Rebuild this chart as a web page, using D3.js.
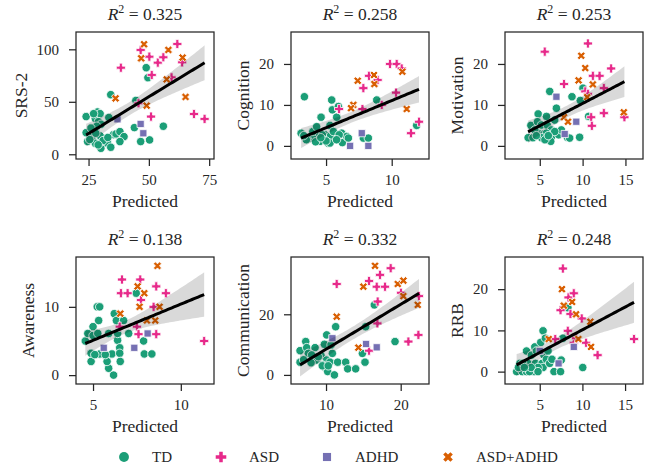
<!DOCTYPE html>
<html>
<head>
<meta charset="utf-8">
<script src="https://cdn.jsdelivr.net/npm/d3@7"></script>
<style>
body { margin: 0; background: #fff; }
text { font-family: "Liberation Serif", "Times New Roman", serif; fill: #262626; }
</style>
</head>
<body>
<div id="chart"></div>
<script>
// group names and colours (Dark2)
const groups = ['TD', 'ASD', 'ADHD', 'ASD+ADHD'];
const groupColors = ['#1b9e77', '#e7298a', '#7570b3', '#d95f02'];

// panel meta
const panelNames = ['SRS-2', 'Cognition', 'Motivation', 'Awareness', 'Communication', 'RRB'];
const r2Labels = ['0.325', '0.258', '0.253', '0.138', '0.332', '0.248'];
const xTicks = [[25, 50, 75], [5, 10], [5, 10, 15], [5, 10], [10, 20], [5, 10, 15]];
const yTicks = [[0, 50, 100], [0, 10, 20], [0, 10, 20], [0, 10], [0, 20], [0, 10, 20]];
const xLimits = [[19.8, 77], [2.33, 12.84], [0.94, 17.05], [4.03, 11.89], [5.31, 23.79], [0.93, 17.1]];
const yLimits = [[-4.5, 116.5], [-3.2, 27.8], [-3.2, 27.8], [-1.3, 17.3], [-3, 38.9], [-3, 27.8]];

// [predicted, observed] per group
const srsTD = [[24.0,35.9],[24.0,20.6],[24.6,12.1],[26.4,16.2],[27.8,34.0],[28.7,40.3],[29.8,38.7],[29.1,31.1],[30.2,28.6],[28.4,26.7],[27.8,10.5],[29.8,17.5],[30.1,5.7],[32.9,10.5],[34.2,6.7],[33.4,35.0],[34.2,56.8],[35.3,18.7],[36.4,19.4],[38.0,21.6],[39.7,16.8],[38.0,12.1],[44.0,25.4],[44.6,51.3],[46.6,12.1],[50.3,13.7],[48.9,82.5],[49.6,73.0],[56.0,26.7],[27.1,38.7],[25.5,14.0],[28.0,20.0],[31.0,13.0],[33.0,16.0],[29.0,9.0],[26.0,25.0]];
const srsASD = [[38.4,82.5],[46.6,99.4],[50.2,93.0],[53.7,87.3],[56.0,92.4],[61.8,105.1],[63.8,87.6],[51.2,75.6],[59.4,73.3],[50.9,35.9],[68.7,38.4],[73.1,33.7],[45.7,48.6]];
const srsADHD = [[37.0,33.3],[46.6,28.9],[47.7,20.0]];
const srsBoth = [[48.0,104.8],[46.8,91.4],[58.1,99.4],[64.0,92.1],[57.4,71.4],[36.2,53.3],[49.1,46.3],[65.2,54.6]];

const cogTD = [[3.10,3.1],[3.35,12.0],[3.78,1.9],[4.16,2.3],[4.47,3.1],[4.62,7.0],[4.54,1.1],[4.92,2.7],[5.13,0.7],[5.30,5.0],[5.43,11.2],[5.48,8.8],[5.30,2.3],[5.56,3.5],[5.81,7.0],[5.94,9.6],[6.19,3.1],[6.24,0.8],[6.57,2.3],[6.70,1.9],[5.30,0.7],[7.84,1.9],[8.22,1.9],[8.86,11.2],[11.90,5.0],[3.99,3.5],[6.0,2.7],[4.72,2.7],[4.28,4.7],[3.5,1.5],[4.2,1.0],[5.0,1.2],[5.8,1.5],[4.6,2.0],[3.3,2.5]];
const cogASD = [[5.99,9.0],[7.84,14.1],[8.27,17.1],[8.93,16.1],[7.77,9.0],[9.24,10.0],[9.87,20.0],[10.38,20.0],[10.76,18.9],[10.33,13.0],[11.47,3.1],[12.08,5.9]];
const cogADHD = [[6.83,0],[7.72,3.1],[8.22,0]];
const cogBoth = [[7.41,15.9],[7.08,10.0],[6.90,9.2],[8.68,15.1],[8.65,17.3],[10.81,18.1],[11.14,9.0]];

const motTD = [[3.64,2.0],[3.95,5.0],[4.81,7.8],[4.81,3.1],[4.73,5.9],[5.19,5.1],[5.50,2.9],[5.78,7.2],[6.16,13.3],[5.89,5.0],[6.36,3.9],[6.36,2.1],[6.28,1.1],[6.74,6.3],[6.94,9.2],[7.21,2.7],[7.52,3.9],[8.22,2.1],[8.49,1.9],[8.76,12.0],[9.65,2.1],[9.73,11.1],[10.04,14.1],[10.70,7.2],[5.78,3.1],[4.42,3.9],[6.74,3.5],[4.2,2.0],[5.2,2.0],[5.6,1.5],[6.0,2.5],[4.6,2.5]];
const motASD = [[5.58,23.0],[7.83,15.1],[10.62,25.0],[10.31,13.3],[11.20,17.1],[11.98,17.1],[13.33,18.9],[12.48,14.1],[11.0,7.0],[11.08,4.9],[12.48,8.0],[14.88,7.0],[10.62,12.7]];
const motADHD = [[6.94,12.0],[9.26,5.9],[7.91,2.9]];
const motBoth = [[9.84,22.0],[10.31,19.0],[9.53,16.0],[11.20,15.0],[7.83,7.0],[8.29,5.9],[10.54,11.9],[14.81,8.2]];

const awaTD = [[4.56,5.0],[4.70,6.1],[4.89,3.2],[4.89,2.0],[5.0,5.8],[5.0,7.1],[5.27,6.1],[5.32,8.0],[5.24,10.0],[5.38,10.0],[5.57,3.1],[5.89,6.1],[6.08,3.1],[5.89,1.0],[6.17,0],[6.21,9.0],[6.33,8.0],[6.40,5.1],[6.52,4.0],[6.52,3.2],[6.74,8.0],[7.03,6.1],[6.55,2.0],[6.40,6.1],[7.46,12.0],[7.88,5.0],[7.92,3.1],[8.35,3.1],[5.38,3.1],[5.80,2.0],[5.1,3.0],[5.7,3.0]];
const awaASD = [[6.65,14.0],[6.59,12.0],[6.97,12.0],[7.69,14.0],[7.73,11.0],[6.52,7.1],[7.5,7.1],[7.59,6.0],[8.45,10.0],[8.60,13.0],[8.60,6.0],[9.15,12.0],[11.33,5.0]];
const awaADHD = [[5.61,4.0],[7.35,4.0],[8.11,6.1]];
const awaBoth = [[8.67,16.0],[7.54,13.0],[7.92,12.0],[7.65,10.0],[6.55,9.0],[8.54,8.0],[8.07,8.0],[8.79,10.0]];

const comTD = [[6.52,8.0],[6.52,4.2],[7.28,11.0],[7.41,9.0],[7.63,7.1],[8.53,9.0],[8.75,4.9],[9.33,6.4],[9.78,10.1],[10.09,13.2],[10.09,4.9],[9.51,3.3],[9.85,2.4],[10.22,1.1],[11.12,0],[10.54,4.2],[10.85,7.1],[11.29,15.9],[11.56,4.2],[12.63,4.2],[12.90,2.0],[13.97,2.0],[14.87,7.1],[15.22,4.2],[15.31,15.9],[16.47,23.1],[19.24,11.0],[8.97,6.0],[8.08,6.6],[10.67,9.9],[7.0,5.0],[8.0,4.0],[9.5,3.0],[10.3,3.0]];
const comASD = [[11.43,30.0],[15.76,31.0],[17.23,33.0],[18.66,35.2],[16.79,29.1],[17.90,29.1],[16.92,24.2],[16.88,17.0],[20.04,27.1],[22.45,26.0],[15.76,8.0],[21.03,11.0],[22.37,13.2]];
const comADHD = [[10.85,12.1],[15.36,10.2],[16.79,9.1]];
const comBoth = [[16.56,36.0],[15.0,29.1],[19.60,30.0],[20.36,31.1],[22.28,23.1],[11.43,19.2],[14.33,9.0],[20.36,26.0]];

const rrbTD = [[2.29,0],[2.67,2.0],[2.95,0],[3.45,0],[3.45,5.0],[3.64,2.0],[4.34,0],[4.42,6.0],[4.50,2.0],[5.12,7.1],[5.27,2.0],[5.39,9.9],[5.39,1.0],[5.50,4.0],[5.66,8.1],[5.78,3.0],[5.97,5.0],[6.16,2.0],[6.43,3.0],[6.67,0],[7.44,0],[7.52,2.8],[7.71,8.1],[10.04,1.0],[4.03,4.0],[4.81,1.0],[4.61,5.0],[2.5,1.0],[3.0,2.0],[3.8,0],[4.0,1.0],[4.8,0],[3.2,1.0],[8.3,15.5]];
const rrbASD = [[7.71,25.0],[8.37,18.0],[8.99,19.0],[7.44,14.9],[8.60,14.0],[9.92,12.9],[8.29,9.9],[6.82,7.9],[8.99,7.0],[10.43,7.0],[11.78,4.0],[16.05,7.9],[9.26,8.1]];
const rrbADHD = [[5.0,5.0],[7.21,2.0],[8.99,6.0]];
const rrbBoth = [[7.60,20.0],[7.83,16.0],[8.80,16.9],[9.26,13.9],[6.05,7.9],[9.53,7.9],[10.93,12.1],[11.01,6.0]];

const panelData = [
    [srsTD, srsASD, srsADHD, srsBoth],
    [cogTD, cogASD, cogADHD, cogBoth],
    [motTD, motASD, motADHD, motBoth],
    [awaTD, awaASD, awaADHD, awaBoth],
    [comTD, comASD, comADHD, comBoth],
    [rrbTD, rrbASD, rrbADHD, rrbBoth]
];

const width = 654, height = 473;
const colLeft = [76, 291, 505];
const rowTop = [32, 257];
const boxW = 138, boxH = 127;

// marker shapes per group: circle, plus, square, x
const symbolTypes = [d3.symbolCircle, d3.symbolCross, d3.symbolSquare, d3.symbolCross];
const symbolRot = [0, 0, 0, 45];
const plotSizes = [56, 46, 52, 42];
const legendSizes = [76, 62, 66, 58];

const svg = d3.select('#chart').append('svg')
    .attr('width', width)
    .attr('height', height);

function linearFit(points) {
    let n = points.length;
    let mx = d3.mean(points, p => p[0]);
    let my = d3.mean(points, p => p[1]);
    let sxx = d3.sum(points, p => (p[0] - mx) ** 2);
    let sxy = d3.sum(points, p => (p[0] - mx) * (p[1] - my));
    let slope = sxy / sxx;
    let intercept = my - slope * mx;
    let sse = d3.sum(points, p => (p[1] - intercept - slope * p[0]) ** 2);
    let s = Math.sqrt(sse / (n - 2));
    return {n, mx, sxx, slope, intercept, s};
}

panelData.forEach((groupData, i) => {
    let left = colLeft[i % 3], top = rowTop[Math.floor(i / 3)];
    let g = svg.append('g').attr('transform', 'translate(' + left + ',' + top + ')');

    let xScale = d3.scaleLinear().domain(xLimits[i]).range([0, boxW]);
    let yScale = d3.scaleLinear().domain(yLimits[i]).range([boxH, 0]);

    // points
    groupData.forEach((pts, k) => {
        g.append('g').selectAll('path')
            .data(pts)
            .enter()
            .append('path')
            .attr('d', d3.symbol().type(symbolTypes[k]).size(plotSizes[k]))
            .attr('transform', d => 'translate(' + xScale(d[0]) + ',' + yScale(d[1]) + ') rotate(' + symbolRot[k] + ')')
            .attr('fill', groupColors[k])
            .attr('stroke', '#fff')
            .attr('stroke-width', 0.8);
    });

    // regression line + 95% band
    let all = groupData.flat();
    let fit = linearFit(all);
    let xMin = d3.min(all, p => p[0]), xMax = d3.max(all, p => p[0]);
    let xs = d3.range(60).map(j => xMin + j / 59 * (xMax - xMin));
    let band = xs.map(x => {
        let yh = fit.intercept + fit.slope * x;
        let se = fit.s * Math.sqrt(1 / fit.n + (x - fit.mx) ** 2 / fit.sxx);
        return {x, yh, lo: yh - 1.99 * se, hi: yh + 1.99 * se};
    });
    g.append('path')
        .datum(band)
        .attr('d', d3.area().x(d => xScale(d.x)).y0(d => yScale(d.lo)).y1(d => yScale(d.hi)))
        .attr('fill', '#000')
        .attr('fill-opacity', 0.15);
    g.append('path')
        .datum(band)
        .attr('d', d3.line().x(d => xScale(d.x)).y(d => yScale(d.yh)))
        .attr('fill', 'none')
        .attr('stroke', '#000')
        .attr('stroke-width', 3);

    // frame
    g.append('rect')
        .attr('width', boxW).attr('height', boxH)
        .attr('fill', 'none').attr('stroke', '#262626').attr('stroke-width', 1.25);

    let xAxis = g.append('g').attr('transform', 'translate(0,' + boxH + ')')
        .call(d3.axisBottom(xScale).tickValues(xTicks[i]).tickSize(7).tickPadding(8).tickSizeOuter(0));
    let yAxis = g.append('g')
        .call(d3.axisLeft(yScale).tickValues(yTicks[i]).tickSize(7).tickPadding(10).tickSizeOuter(0));
    [xAxis, yAxis].forEach(ax => {
        ax.select('.domain').remove();
        ax.selectAll('line').attr('stroke', '#262626').attr('stroke-width', 1.25);
        ax.selectAll('text').attr('font-size', 15).attr('fill', '#262626')
            .style('font-family', '"Liberation Serif", "Times New Roman", serif');
    });

    g.append('text')
        .attr('x', boxW / 2).attr('y', boxH + 48)
        .attr('text-anchor', 'middle')
        .attr('font-size', 17.5)
        .text('Predicted');

    let tickBox = yAxis.node().getBBox();
    g.append('text')
        .attr('transform', 'translate(' + (tickBox.x - 16) + ',' + boxH / 2 + ') rotate(-90)')
        .attr('text-anchor', 'middle')
        .attr('dy', '0.35em')
        .attr('font-size', 17.5)
        .text(panelNames[i]);

    let title = g.append('text')
        .attr('x', boxW / 2).attr('y', -12)
        .attr('text-anchor', 'middle')
        .attr('font-size', 17.5);
    title.append('tspan').attr('font-style', 'italic').text('R');
    title.append('tspan').attr('font-size', 12).attr('dy', -7).text('2');
    title.append('tspan').attr('dy', 7).text(' = ' + r2Labels[i]);
});

// legend
const legendMarkX = [124, 221, 327, 448];
const legend = svg.append('g').attr('transform', 'translate(0,457)');
groups.forEach((name, k) => {
    legend.append('path')
        .attr('d', d3.symbol().type(symbolTypes[k]).size(legendSizes[k]))
        .attr('transform', 'translate(' + legendMarkX[k] + ',0) rotate(' + symbolRot[k] + ')')
        .attr('fill', groupColors[k]);
    legend.append('text')
        .attr('x', legendMarkX[k] + 28)
        .attr('dy', '0.35em')
        .attr('font-size', 15)
        .text(name);
});
</script>
</body>
</html>
